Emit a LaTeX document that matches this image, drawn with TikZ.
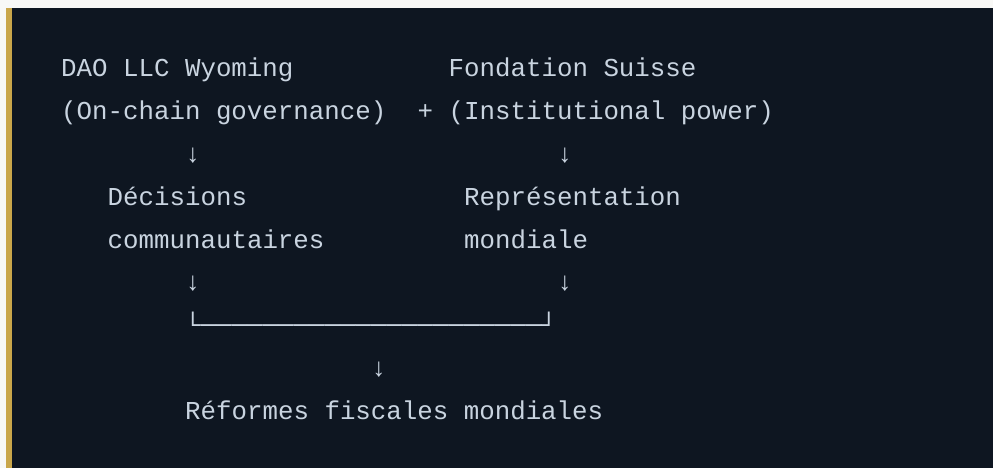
\documentclass[tikz,border=0pt]{standalone}
\usepackage{fontspec}
\setmonofont{Liberation Mono}
\definecolor{pagebg}{HTML}{F8F8F6}
\definecolor{codebg}{HTML}{0E1621}
\definecolor{goldbar}{HTML}{C9A64A}
\definecolor{codetext}{HTML}{C9D4E0}
\tikzset{codeline/.style={anchor=base west, inner sep=0pt, text=codetext,
    font=\ttfamily\fontsize{25.8}{30}\selectfont}}
% column and row of the monospaced grid
\def\cx#1{61+#1*15.5}
\def\ry#1{77+#1*42.75}

\begin{document}
\begin{tikzpicture}[x=1pt,y=-1pt]
				\useasboundingbox (0,0) rectangle (993,468);
				\fill[pagebg] (0,0) rectangle (993,468);
				\fill[codebg] (12,8) rectangle (993,468);
				\fill[goldbar] (6,8) rectangle (12,468);
				
				\node[codeline] (dao) at ({\cx{0}},{\ry{0}}) {DAO LLC Wyoming};
				\node[codeline] (fond) at ({\cx{25}},{\ry{0}}) {Fondation Suisse};
				\node[codeline] (gov) at ({\cx{0}},{\ry{1}}) {(On-chain governance)};
				\node[codeline] (plus) at ({\cx{23}},{\ry{1}}) {+};
				\node[codeline] (inst) at ({\cx{25}},{\ry{1}}) {(Institutional power)};
				
				\node[codeline] (arrA) at ({\cx{8}},{\ry{2}}) {↓};
				\node[codeline] (arrB) at ({\cx{32}},{\ry{2}}) {↓};
				
				\node[codeline] (dec) at ({\cx{3}},{\ry{3}}) {Décisions};
				\node[codeline] (rep) at ({\cx{26}},{\ry{3}}) {Représentation};
				\node[codeline] (comm) at ({\cx{3}},{\ry{4}}) {communautaires};
				\node[codeline] (mond) at ({\cx{26}},{\ry{4}}) {mondiale};
				
				\node[codeline] (arrC) at ({\cx{8}},{\ry{5}}) {↓};
				\node[codeline] (arrD) at ({\cx{32}},{\ry{5}}) {↓};
				
				\node[codeline] (join) at ({\cx{8}},{\ry{6}}) {└──────────────────────┘};
				
				\node[codeline] (arrE) at ({\cx{20}},{\ry{7}}) {↓};
				\node[codeline] (ref) at ({\cx{8}},{\ry{8}}) {Réformes fiscales mondiales};
			\end{tikzpicture}
\end{document}
